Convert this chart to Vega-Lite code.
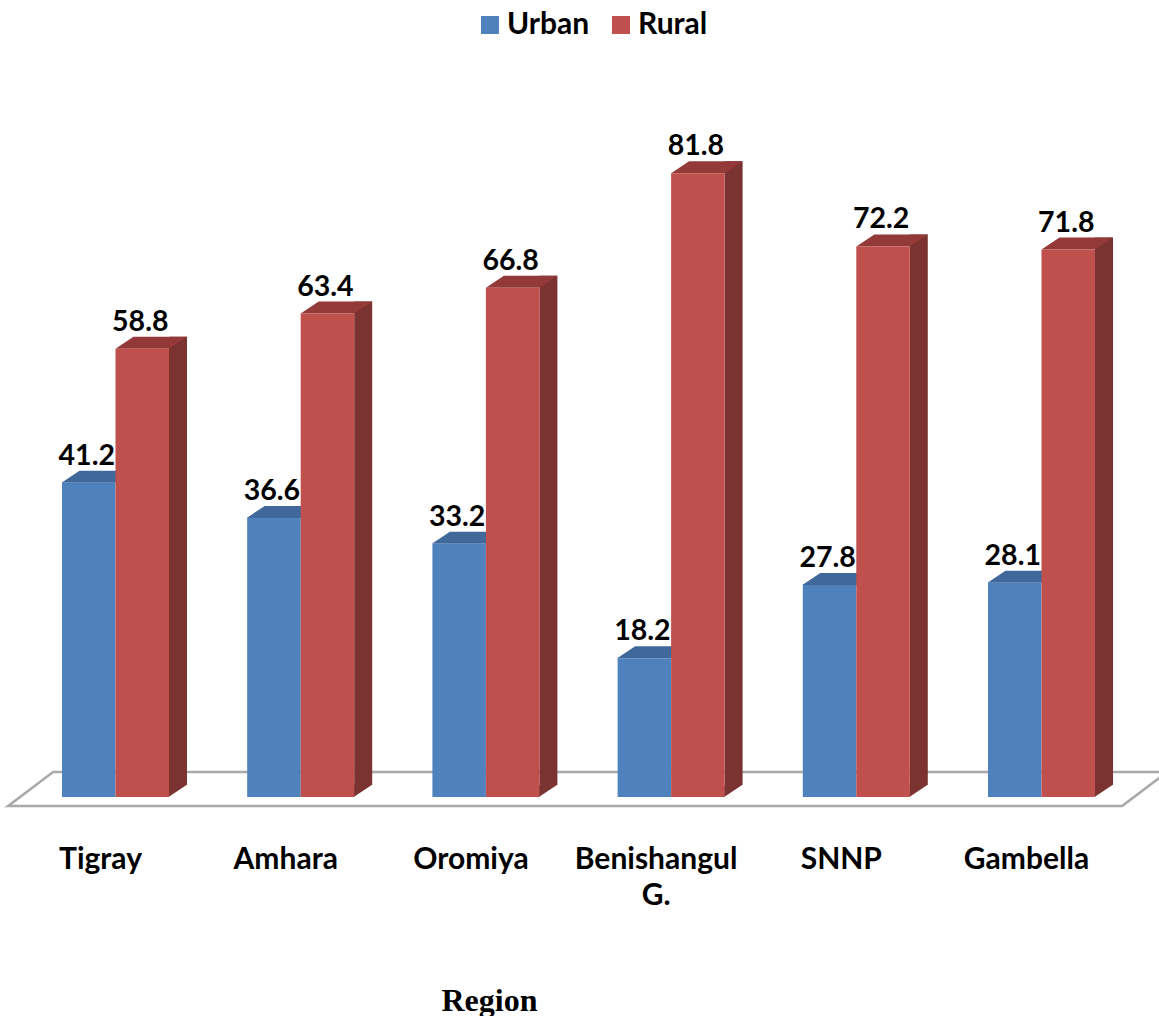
{
  "$schema": "https://vega.github.io/schema/vega-lite/v6.json",
  "width": 1159,
  "height": 797,
  "padding": {"left": 0, "top": 0, "right": 0, "bottom": 219},
  "autosize": "none",
  "background": "white",
  "config": {"view": {"stroke": null}},
  "data": {"values": [
    {"region": "Tigray", "area": "Urban", "pct": 41.2},
    {"region": "Tigray", "area": "Rural", "pct": 58.8},
    {"region": "Amhara", "area": "Urban", "pct": 36.6},
    {"region": "Amhara", "area": "Rural", "pct": 63.4},
    {"region": "Oromiya", "area": "Urban", "pct": 33.2},
    {"region": "Oromiya", "area": "Rural", "pct": 66.8},
    {"region": "Benishangul G.", "area": "Urban", "pct": 18.2},
    {"region": "Benishangul G.", "area": "Rural", "pct": 81.8},
    {"region": "SNNP", "area": "Urban", "pct": 27.8},
    {"region": "SNNP", "area": "Rural", "pct": 72.2},
    {"region": "Gambella", "area": "Urban", "pct": 28.1},
    {"region": "Gambella", "area": "Rural", "pct": 71.8}
  ]},
  "encoding": {
    "x": {
      "field": "region",
      "type": "nominal",
      "sort": null,
      "scale": {
        "domain": ["Tigray", "Amhara", "Oromiya", "Benishangul G.", "SNNP", "Gambella"],
        "range": [22.9, 1134.1],
        "paddingInner": 0.4222,
        "paddingOuter": 0.2111
      },
      "axis": {
        "orient": "bottom",
        "domain": false,
        "ticks": false,
        "labelAngle": 0,
        "labelOffset": -15,
        "labelPadding": 47,
        "labelFont": "Lato",
        "labelFontWeight": "bold",
        "labelFontSize": 30,
        "labelColor": "black",
        "labelLineHeight": 36,
        "labelLimit": 0,
        "labelExpr": "datum.label == 'Benishangul G.' ? ['Benishangul', 'G.'] : datum.label",
        "title": "Region",
        "titleFont": "Liberation Serif",
        "titleFontWeight": "bold",
        "titleFontSize": 32,
        "titleColor": "black",
        "titleX": 489,
        "titleY": 213,
        "titleAlign": "center",
        "titleBaseline": "alphabetic"
      }
    },
    "y": {
      "field": "pct",
      "type": "quantitative",
      "stack": null,
      "scale": {"domain": [0, 104.52], "nice": false, "zero": true},
      "axis": null
    }
  },
  "layer": [
    {
      "description": "Floor plate under the bars",
      "transform": [{"filter": "datum.region == 'Benishangul G.' && datum.area == 'Urban'"}],
      "mark": {
        "type": "point",
        "shape": "M-13.26,0.18 L-12.36,-0.5 L9.92,-0.5 L9.02,0.18 Z",
        "size": 10000,
        "filled": false,
        "stroke": "#a9a9a9",
        "strokeWidth": 2.6,
        "opacity": 1
      },
      "encoding": {"y": {"datum": 0}}
    },
    {
      "description": "Right side face of the rural bars",
      "transform": [{"filter": "datum.area == 'Rural'"}],
      "mark": {"type": "bar", "width": 18, "xOffset": 62.5, "yOffset": -12, "y2Offset": -12, "color": "#7a3331"},
      "encoding": {"y2": {"datum": 0}}
    },
    {
      "description": "Slanted foot of the side face",
      "transform": [{"filter": "datum.area == 'Rural'"}],
      "mark": {"type": "point", "shape": "M1.06,0 L1.42,-0.24 L1.06,-0.24 Z", "size": 10000, "filled": true, "color": "#7a3331", "opacity": 1},
      "encoding": {"y": {"datum": 0}}
    },
    {
      "description": "Top face of the urban bars",
      "transform": [{"filter": "datum.area == 'Urban'"}],
      "mark": {"type": "point", "shape": "M-1.08,0 L0,0 L0.36,-0.24 L-0.72,-0.24 Z", "size": 10000, "filled": true, "color": "#41689a", "opacity": 1}
    },
    {
      "description": "Top face of the rural bars",
      "transform": [{"filter": "datum.area == 'Rural'"}],
      "mark": {"type": "point", "shape": "M0,0 L1.07,0 L1.43,-0.24 L0.36,-0.24 Z", "size": 10000, "filled": true, "color": "#933a38", "opacity": 1}
    },
    {
      "description": "Front faces, which also carry the legend",
      "mark": {"type": "bar"},
      "encoding": {
        "xOffset": {"field": "area", "type": "nominal", "sort": ["Urban", "Rural"], "scale": {"domain": ["Urban", "Rural"]}},
        "fill": {
          "field": "area",
          "type": "nominal",
          "scale": {"domain": ["Urban", "Rural"], "range": ["#4f81bd", "#c0504d"]},
          "legend": {
            "orient": "none",
            "legendX": 475,
            "legendY": 10,
            "direction": "horizontal",
            "title": null,
            "symbolType": "square",
            "symbolSize": 324,
            "symbolStrokeWidth": 0,
            "labelFont": "Lato",
            "labelFontWeight": "bold",
            "labelFontSize": 30,
            "labelColor": "black",
            "labelOffset": 2,
            "columnPadding": 16
          }
        }
      }
    },
    {
      "description": "Value labels above each bar",
      "mark": {"type": "text", "font": "Lato", "fontWeight": "bold", "fontSize": 28.5, "color": "black", "baseline": "alphabetic", "dy": -18, "dx": -2},
      "encoding": {
        "xOffset": {"field": "area", "type": "nominal", "sort": ["Urban", "Rural"], "scale": {"domain": ["Urban", "Rural"]}},
        "text": {"field": "pct", "type": "quantitative", "format": ".1f"}
      }
    }
  ]
}
